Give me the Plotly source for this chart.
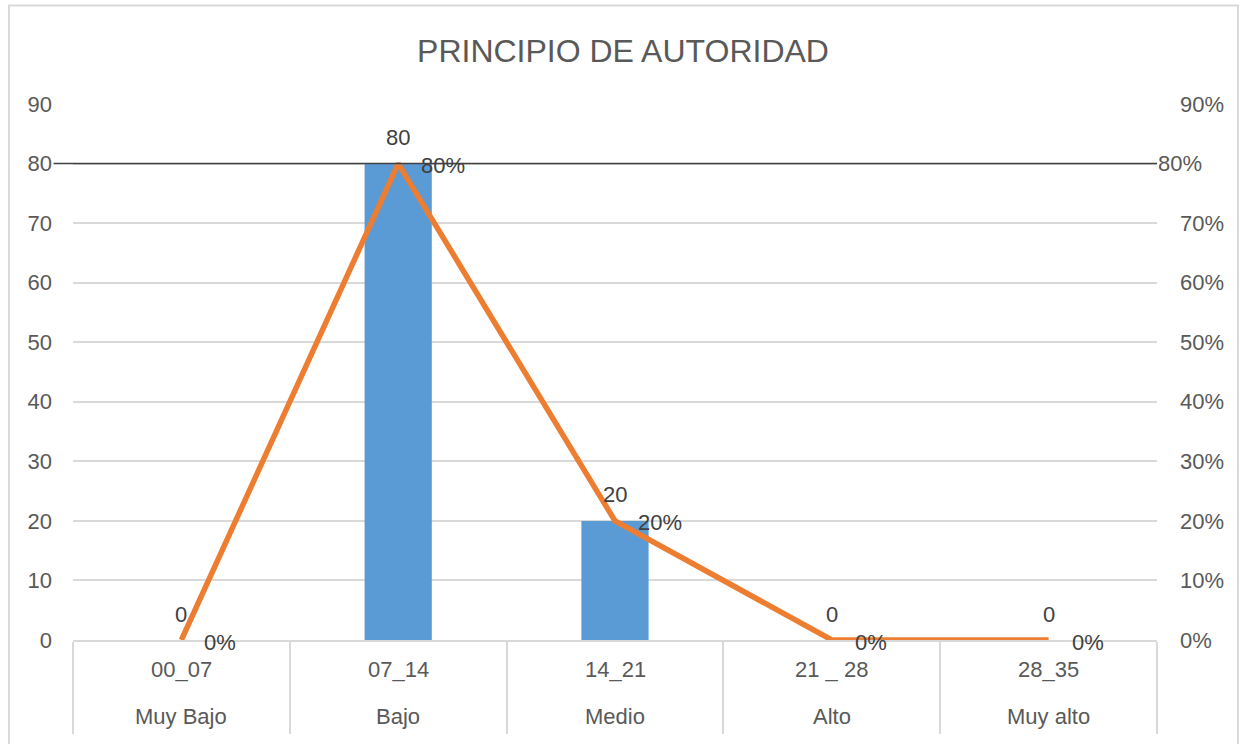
import plotly.graph_objects as go

# Frequency table for "Principio de autoridad"
rangos = ["00_07", "07_14", "14_21", "21 _ 28", "28_35"]
niveles = ["Muy Bajo", "Bajo", "Medio", "Alto", "Muy alto"]
frecuencia = [0, 80, 20, 0, 0]
porcentaje = [0.0, 0.80, 0.20, 0.0, 0.0]
referencia = 80
y_ticks = list(range(0, 91, 10))

FONT = "Liberation Sans, Arial, sans-serif"
TICK = "#595959"
LABEL = "#404040"
GRID = "#D9D9D9"

fig = go.Figure()

fig.add_trace(go.Bar(
    x=rangos, y=frecuencia,
    marker=dict(color="#5B9BD5", line=dict(width=0)),
    width=0.31, showlegend=False, hoverinfo="y",
))

# Percentage line on the secondary axis
fig.add_trace(go.Scatter(
    x=rangos, y=porcentaje, yaxis="y2", mode="lines",
    line=dict(color="#ED7D31", width=5.5),
    showlegend=False, cliponaxis=False,
))

annotations = []
for r, n, f, p in zip(rangos, niveles, frecuencia, porcentaje):
    # count above the bar
    annotations.append(dict(x=r, y=f, xref="x", yref="y", text=str(f), showarrow=False,
                            xanchor="center", yanchor="middle", yshift=26,
                            font=dict(family=FONT, size=22, color=LABEL)))
    # percentage to the right of the line point
    annotations.append(dict(x=r, y=p, xref="x", yref="y2", text=f"{round(p * 100)}%",
                            showarrow=False, xanchor="left", yanchor="middle",
                            xshift=21, yshift=-2,
                            font=dict(family=FONT, size=22, color=LABEL)))
    # two-row category labels
    annotations.append(dict(x=r, y=0, xref="x", yref="paper", text=r, showarrow=False,
                            xanchor="center", yanchor="middle", yshift=-29,
                            font=dict(family=FONT, size=22, color=TICK)))
    annotations.append(dict(x=r, y=0, xref="x", yref="paper", text=n, showarrow=False,
                            xanchor="center", yanchor="middle", yshift=-76,
                            font=dict(family=FONT, size=22, color=TICK)))

# right-hand label at the end of the reference line
annotations.append(dict(x=1.0, y=referencia, xref="paper", yref="y", text=f"{referencia}%",
                        showarrow=False, xanchor="left", yanchor="middle", xshift=-1,
                        font=dict(family=FONT, size=22, color=TICK)))

# Reference line at 80
fig.add_shape(type="line", xref="paper", yref="y",
              x0=-0.018, x1=1.0, y0=referencia, y1=referencia,
              line=dict(color="#404040", width=1.5), layer="above")

# Chart frame
fig.add_shape(type="rect", xref="paper", yref="paper",
              x0=-0.059, x1=1.0747, y0=-0.25, y1=1.1837,
              line=dict(color=GRID, width=2), fillcolor="rgba(0,0,0,0)", layer="below")

fig.update_layout(
    width=1246, height=744,
    margin=dict(l=73, r=89, t=104, b=101),
    paper_bgcolor="white", plot_bgcolor="white",
    font=dict(family=FONT, size=22, color=TICK),
    title=dict(text="PRINCIPIO DE AUTORIDAD", x=0.5, xanchor="center",
               y=1 - 51 / 744, yanchor="middle",
               font=dict(family=FONT, size=32, color=TICK)),
    bargap=0.69,
    annotations=annotations,
    xaxis=dict(type="category", showline=True, linecolor=GRID, linewidth=1.5,
               showgrid=False, tickson="boundaries", ticks="outside", ticklen=92,
               tickcolor=GRID, tickwidth=1.5, showticklabels=False),
    yaxis=dict(range=[0, 90], tickvals=y_ticks, showgrid=True, gridcolor=GRID, gridwidth=1.5,
               zeroline=False, showline=False, ticks="", ticklabelstandoff=20,
               tickfont=dict(family=FONT, size=22, color=TICK)),
    yaxis2=dict(range=[0, 0.9], tickvals=[v / 100 for v in y_ticks if v != referencia],
                tickformat=".0%", overlaying="y", side="right",
                showgrid=False, zeroline=False, showline=False, ticks="",
                ticklabelstandoff=22,
                tickfont=dict(family=FONT, size=22, color=TICK)),
)

fig.write_html("out.html")
